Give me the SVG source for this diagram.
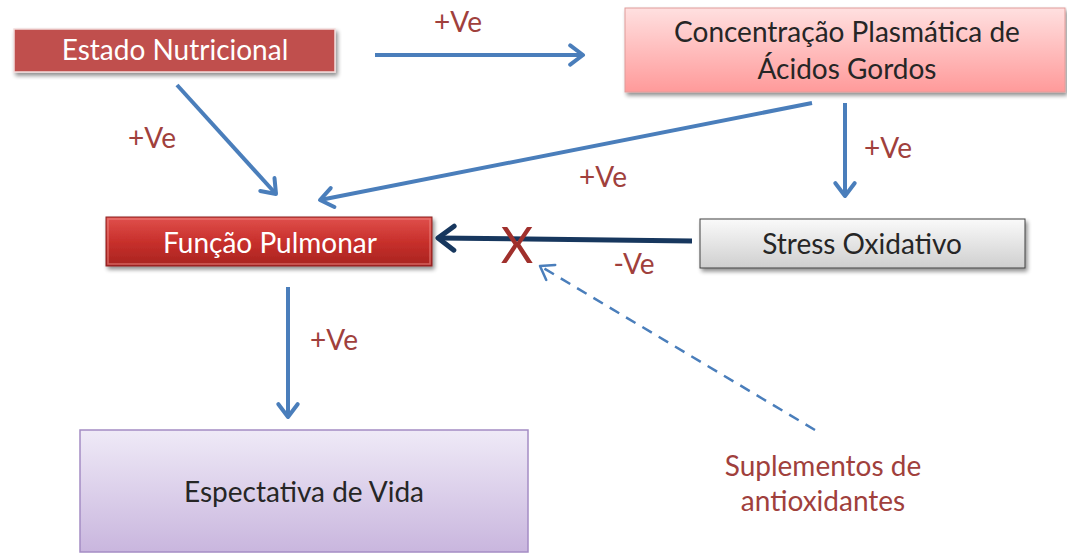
<svg xmlns="http://www.w3.org/2000/svg" width="1067" height="554" viewBox="0 0 1067 554">
  <defs>
    <style>
      .lbl { font-family: Lato, "Open Sans", sans-serif; font-size: 28px; text-anchor: middle; }
      .w { fill: #ffffff; }
      .dk { fill: #262626; }
      .red { fill: #A0403C; }
      .conn { fill: none; stroke: #4A7EBB; stroke-width: 4; }
    </style>
    <filter id="shadow" x="-10%" y="-20%" width="130%" height="160%">
      <feGaussianBlur in="SourceAlpha" stdDeviation="2"/>
      <feOffset dx="2" dy="3"/>
      <feComponentTransfer><feFuncA type="linear" slope="0.45"/></feComponentTransfer>
      <feMerge><feMergeNode/><feMergeNode in="SourceGraphic"/></feMerge>
    </filter>
    <linearGradient id="gPink" x1="0" y1="0" x2="0" y2="1">
      <stop offset="0" stop-color="#FFE0E0"/>
      <stop offset="1" stop-color="#FF9A9A"/>
    </linearGradient>
    <linearGradient id="gRed" x1="0" y1="0" x2="0" y2="1">
      <stop offset="0" stop-color="#E0504C"/>
      <stop offset="0.5" stop-color="#C8302C"/>
      <stop offset="1" stop-color="#A82420"/>
    </linearGradient>
    <linearGradient id="gGray" x1="0" y1="0" x2="0" y2="1">
      <stop offset="0" stop-color="#FAFAFA"/>
      <stop offset="1" stop-color="#CFCFCF"/>
    </linearGradient>
    <linearGradient id="gPurple" x1="0" y1="0" x2="0" y2="1">
      <stop offset="0" stop-color="#EFEAF7"/>
      <stop offset="1" stop-color="#C9B6DE"/>
    </linearGradient>
    <marker id="open" markerWidth="6" markerHeight="6" refX="4.2" refY="3" orient="auto" markerUnits="strokeWidth">
      <path d="M1,0.6 L4.2,3 L1,5.4" fill="none" stroke="#4A7EBB" stroke-width="1" stroke-linecap="round" stroke-linejoin="round"/>
    </marker>
    <marker id="openDk" markerWidth="6" markerHeight="6" refX="4.2" refY="3" orient="auto" markerUnits="strokeWidth">
      <path d="M1,0.6 L4.2,3 L1,5.4" fill="none" stroke="#17375E" stroke-width="1" stroke-linecap="round" stroke-linejoin="round"/>
    </marker>
    <marker id="openDash" markerWidth="10" markerHeight="10" refX="7" refY="5" orient="auto" markerUnits="strokeWidth">
      <path d="M2,1.5 L7,5 L2,8.5" fill="none" stroke="#4A7EBB" stroke-width="1" stroke-linecap="round" stroke-linejoin="round"/>
    </marker>
  </defs>

  <rect width="1067" height="554" fill="#ffffff"/>

  <!-- connectors -->
  <g id="connectors">
    <line class="conn" x1="375" y1="55" x2="583" y2="55" marker-end="url(#open)"/>
    <line class="conn" x1="177" y1="85" x2="276" y2="194" marker-end="url(#open)"/>
    <line class="conn" x1="812" y1="103" x2="320" y2="200" marker-end="url(#open)"/>
    <line class="conn" x1="845" y1="103" x2="845" y2="196" marker-end="url(#open)"/>
    <line class="conn" x1="288" y1="287" x2="288" y2="417" marker-end="url(#open)"/>
    <line x1="692" y1="241" x2="438" y2="238" fill="none" stroke="#17375E" stroke-width="5" marker-end="url(#openDk)"/>
    <line x1="815" y1="430" x2="540" y2="266" fill="none" stroke="#4A7EBB" stroke-width="2.5" stroke-dasharray="11,8" marker-end="url(#openDash)"/>
  </g>

  <!-- connector labels -->
  <g id="labels">
    <text class="lbl red" x="458" y="32">+Ve</text>
    <text class="lbl red" x="152" y="148">+Ve</text>
    <text class="lbl red" x="603" y="187">+Ve</text>
    <text class="lbl red" x="888" y="158">+Ve</text>
    <text class="lbl red" x="334" y="350">+Ve</text>
    <text class="lbl red" x="634" y="274">-Ve</text>
    <text x="517" y="263" style="font-family: Lato, 'Open Sans', sans-serif; font-size: 50px; text-anchor: middle; fill: #A0302C;">X</text>
  </g>

  <g id="estado-nutricional">
    <rect x="14" y="29" width="321" height="43" fill="#C0504D" stroke="#F2DCDB" stroke-width="1.5" filter="url(#shadow)"/>
    <text class="lbl w" x="175" y="60">Estado Nutricional</text>
  </g>

  <g id="concentracao">
    <rect x="625" y="8" width="440" height="84" fill="url(#gPink)" stroke="#E09C9A" stroke-width="1" filter="url(#shadow)"/>
    <text class="lbl dk" x="847" y="42">Concentração Plasmática de</text>
    <text class="lbl dk" x="847" y="79">Ácidos Gordos</text>
  </g>

  <g id="funcao-pulmonar">
    <rect x="106" y="217" width="326" height="49" fill="url(#gRed)" stroke="#8C2320" stroke-width="1" filter="url(#shadow)"/>
    <rect x="108" y="219" width="322" height="45" fill="none" stroke="#EE8A86" stroke-width="1.5" opacity="0.6"/>
    <text class="lbl w" x="270" y="253">Função Pulmonar</text>
  </g>

  <g id="stress-oxidativo">
    <rect x="700" y="219" width="325" height="49" fill="url(#gGray)" stroke="#404040" stroke-width="1" filter="url(#shadow)"/>
    <text class="lbl dk" x="862" y="254">Stress Oxidativo</text>
  </g>

  <g id="espectativa-de-vida">
    <rect x="80" y="430" width="448" height="122" fill="url(#gPurple)" stroke="#A48CC4" stroke-width="1.5"/>
    <text class="lbl dk" x="304" y="502">Espectativa de Vida</text>
  </g>

  <g id="suplementos">
    <text class="lbl red" x="823" y="476">Suplementos de</text>
    <text class="lbl red" x="823" y="511">antioxidantes</text>
  </g>
</svg>
